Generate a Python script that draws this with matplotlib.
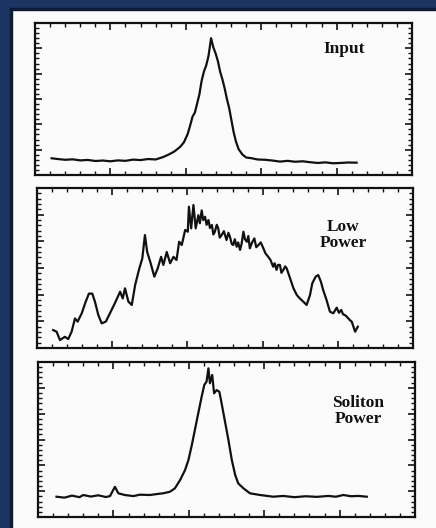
import numpy as np
import matplotlib
matplotlib.use("Agg")
import matplotlib.pyplot as plt
from matplotlib.ticker import MultipleLocator
from matplotlib.patches import Rectangle

# values (x, y in % of the frame)
input_x = [4.4, 6, 8, 10, 12, 14, 16, 18, 20, 22, 24, 26, 28, 30, 32, 34, 35.5, 37, 38.5,
           39.5, 40.5, 41.2, 41.8, 42.4, 43, 43.6, 44.2, 44.8, 45.4, 46, 46.7, 47.3, 47.9,
           48.5, 49.1, 49.7, 50.3, 50.9, 51.5, 52.1, 52.7, 53.3, 54, 55, 56, 57.5, 59, 61,
           63, 65, 67, 69, 71, 73, 75, 77, 79, 81, 83, 85.3]
input_y = [11, 10.5, 10, 10.3, 9.6, 9.9, 9.2, 9.5, 9, 9.6, 9.3, 10.1, 9.8, 10.5, 10.2, 11.8,
           13.5, 15.5, 18.5, 21.5, 27, 33, 38.5, 41, 47, 53, 62, 68, 72, 78, 90, 84, 80, 75,
           68, 63, 57, 50, 44, 36, 28, 22, 17, 13.5, 11.5, 11, 10.2, 10, 9.5, 8.8, 9.3, 8.7,
           9, 8.4, 7.9, 8.3, 7.7, 7.9, 8.2, 8.1]

low_x = [4.3, 5.2, 6.1, 7.4, 8.3, 9.2, 10.1, 10.8, 11.9, 12.8, 13.8, 14.7, 15.4, 16.3, 17.2,
         18.3, 19.4, 20.7, 22.1, 22.8, 23.4, 24.3, 25.2, 26.1, 27.1, 28, 28.7, 29.3, 30.1,
         31.2, 32.1, 33, 33.6, 34.5, 35.4, 36.3, 37.1, 37.8, 38.5, 39.4, 40.1, 40.4, 41,
         41.6, 42.2, 42.9, 43.3, 43.8, 44.2, 44.7, 45.1, 45.6, 46, 46.5, 46.9, 47.3, 47.8,
         48.2, 48.6, 49.1, 49.7, 50.4, 50.9, 51.3, 51.8, 52.2, 52.6, 53.1, 53.5, 54, 54.4,
         54.9, 55.3, 55.8, 56.2, 56.6, 57.2, 57.8, 58.3, 58.9, 59.5, 60.2, 60.8, 61.5, 62.1,
         62.8, 63.2, 63.7, 64.1, 64.6, 65, 65.5, 66, 66.4, 67.3, 68.2, 69.1, 69.9, 70.8,
         71.7, 72.6, 73.2, 74.1, 74.8, 75.5, 76.1, 77, 77.9, 78.8, 79.7, 80.3, 80.9, 81.4,
         81.9, 82.4, 82.8, 83.3, 83.7, 84.6, 85.3]
low_y = [11.2, 10.2, 5, 7, 5.6, 10.2, 18.5, 16.5, 21.7, 28, 34, 34, 29, 20.6, 15.4,
         16.5, 21.7, 28, 35.2, 31, 37.3, 29, 26.9, 39.4, 48.8, 56, 70.6, 60, 54,
         44.6, 49.8, 57, 51.9, 60, 53, 57, 55, 66.4, 64.4, 73.8, 72.7, 88.3, 74.8,
         89.4, 74.8, 83, 78, 86, 80, 82, 77, 80, 75, 76.9, 71, 72.7, 77,
         74.8, 69, 70.6, 73, 67.5, 72, 69.6, 65, 64.4, 68, 63.3, 66,
         61.3, 65, 72.7, 68, 66.4, 70, 62.3, 66, 68.5, 63, 64.4, 66, 62.3, 59, 57, 55,
         50.8, 53, 48.8, 52, 51.9, 47, 48.8, 51, 49.8, 43.6, 37.3, 33.1, 31, 29,
         26.9, 33.1, 40.4, 44.6, 45.6, 41.4, 36.3, 30, 22.7, 21.7, 25.2, 22, 23.8, 21,
         20.6, 19.5, 18.5, 17.2, 16.5, 10.2, 13.3]

sol_x = [4.9, 7, 9, 11, 12, 14, 16, 18, 19.1, 20.4, 21.3, 23, 25.3, 27, 29.7, 31.5, 33.2, 35,
         36.3, 37.7, 39, 39.9, 40.8, 41.6, 42.5, 43.4, 44.1, 44.7, 45.2, 45.6, 46.2, 46.7,
         47.4, 48.1, 48.7, 49.6, 50.5, 51.4, 52.3, 53.1, 54.5, 56.2, 58.9, 62.4, 65, 68, 71,
         74, 77, 79, 81, 83, 85, 87.2]
sol_y = [13.1, 12.5, 13.8, 12.8, 14.2, 13.2, 14, 12.9, 13.5, 19.5, 15.3, 14.2, 13.5, 14.4,
         14.2, 14.8, 15.3, 16.3, 18.5, 23.9, 30.3, 36.8, 46.5, 56.1, 66.9, 77.6, 85.2, 87.3,
         95.9, 86.3, 91.6, 79.8, 81.9, 80.8, 73.3, 61.5, 49.7, 36.8, 27.1, 21.7, 18.5, 15.3,
         14.2, 13.1, 13.6, 12.8, 13.4, 13, 13.6, 13.1, 14.2, 13.4, 13.6, 13.1]

panels = [
    (input_x, input_y, "Input", (82, 83)),
    (low_x, low_y, "Low\nPower", (81.4, 70.5)),
    (sol_x, sol_y, "Soliton\nPower", (85, 68.5)),
]
rects = [
    [0.0803, 0.6686, 0.8647, 0.2879],
    [0.0849, 0.3409, 0.8624, 0.3030],
    [0.0872, 0.0208, 0.8647, 0.2936],
]

fig = plt.figure(figsize=(4.36, 5.28), dpi=100, facecolor="#fbfbfb")
# navy frame of the slide
navy, dark = "#1c3461", "#0c1a33"
fig.patches.append(Rectangle((0, 0), 10 / 436, 1, transform=fig.transFigure,
                             color=navy, zorder=0))
fig.patches.append(Rectangle((0, 1 - 8 / 528), 1, 8 / 528, transform=fig.transFigure,
                             color=navy, zorder=0))
fig.patches.append(Rectangle((10 / 436, 0), 1.5 / 436, 1 - 8 / 528, transform=fig.transFigure,
                             color=dark, zorder=0))
fig.patches.append(Rectangle((10 / 436, 1 - 9.5 / 528), 1, 1.5 / 528, transform=fig.transFigure,
                             color=dark, zorder=0))

for (x, y, label, pos), r in zip(panels, rects):
    ax = fig.add_axes(r)
    ax.set_facecolor("none")
    ax.plot(x, y, color="#111111", lw=1.6)
    ax.set_xlim(0, 100)
    ax.set_ylim(0, 100)
    ax.xaxis.set_major_locator(MultipleLocator(20))
    ax.xaxis.set_minor_locator(MultipleLocator(4))
    ax.yaxis.set_major_locator(MultipleLocator(100 / 6))
    ax.yaxis.set_minor_locator(MultipleLocator(100 / 30))
    ax.tick_params(which="both", direction="in", top=True, right=True,
                   labelbottom=False, labelleft=False, color="#111111")
    ax.tick_params(which="major", length=5, width=1.2)
    ax.tick_params(which="minor", length=3, width=1.0)
    for s in ax.spines.values():
        s.set_linewidth(1.6)
        s.set_color("#111111")
    ax.text(pos[0], pos[1], label, ha="center", va="center", fontsize=12.5,
            family="Liberation Serif", fontweight="bold", linespacing=1.0,
            color="#111111")

fig.savefig("out.png", dpi=100, facecolor=fig.get_facecolor())
